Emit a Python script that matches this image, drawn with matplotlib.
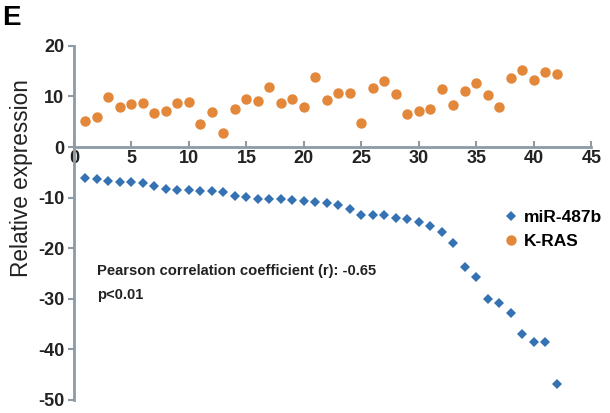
import matplotlib
matplotlib.use('Agg')
from matplotlib import pylab as plt
from matplotlib import font_manager

plt.rcParams['axes.unicode_minus'] = False
installed = {f.name for f in font_manager.fontManager.ttflist}
narrow = 'Liberation Sans Narrow' if 'Liberation Sans Narrow' in installed else 'Liberation Sans'
scale = 1.0 if narrow == 'Liberation Sans Narrow' else 0.82
plt.rcParams['font.family'] = ['Liberation Sans', 'DejaVu Sans']

samples = list(range(1, 43))
kras = [5.2, 6.0, 9.8, 7.9, 8.6, 8.7, 6.8, 7.1, 8.8, 8.9,
        4.5, 6.9, 2.8, 7.5, 9.4, 9.0, 11.9, 8.8, 9.4, 7.9,
        13.8, 9.3, 10.6, 10.6, 4.8, 11.6, 13.1, 10.5, 6.5, 7.1,
        7.5, 11.5, 8.3, 11.1, 12.7, 10.3, 7.9, 13.6, 15.2, 13.2,
        14.8, 14.4]
mir487b = [-6.1, -6.4, -6.7, -6.9, -7.0, -7.2, -7.7, -8.3, -8.4, -8.4,
           -8.6, -8.6, -8.8, -9.6, -9.8, -10.3, -10.3, -10.3, -10.5, -10.7,
           -10.8, -11.1, -11.5, -12.3, -13.4, -13.5, -13.5, -14.0, -14.3, -14.8,
           -15.7, -16.8, -19.0, -23.8, -25.7, -30.0, -30.9, -32.9, -37.0, -38.6,
           -38.6, -46.8]
xTicks = list(range(0, 50, 5))
yTicks = list(range(-50, 30, 10))

blue = '#3572b4'
orange = '#e3883a'
spineColor = '#8c9ba6'
textColor = '#222222'

fig = plt.figure(figsize=(6.1, 4.13), dpi=100)
ax = fig.add_axes([0.1213, 0.0315, 0.848, 0.8575])

ax.plot(samples, mir487b, 'D', color=blue, markersize=5.5, markeredgewidth=0, label='miR-487b')
ax.plot(samples, kras, 'o', color=orange, markersize=7.5, markeredgewidth=0, label='K-RAS')

ax.set_xlim(0, 45)
ax.set_ylim(-50, 20)
ax.set_xticks(xTicks)
ax.set_yticks(yTicks)
ax.spines['top'].set_visible(False)
ax.spines['right'].set_visible(False)
ax.spines['bottom'].set_position(('data', 0))
for side in ('left', 'bottom'):
    ax.spines[side].set_color(spineColor)
    ax.spines[side].set_linewidth(2)
ax.tick_params(axis='y', direction='out', length=4, width=1.5, color=spineColor, pad=3)
ax.tick_params(axis='x', direction='in', length=4, width=1.5, color=spineColor, pad=2)
for label in ax.get_xticklabels() + ax.get_yticklabels():
    label.set_fontfamily([narrow, 'DejaVu Sans'])
    label.set_fontsize(14.5 * scale if scale == 1.0 else 13)
    label.set_fontweight('bold')
    label.set_color(textColor)

ax.set_ylabel('Relative expression', fontsize=16.3, color=textColor)
ax.yaxis.set_label_coords(-0.079, 0.627)

ax.text(0.045, 0.33, 'Pearson correlation coefficient (r): -0.65\np<0.01',
        transform=ax.transAxes, fontsize=13 * scale, fontweight='bold', color=textColor,
        family=[narrow, 'DejaVu Sans'], linespacing=1.85, va='center')

ax.legend(loc='center left', bbox_to_anchor=(0.815, 0.482), frameon=False,
          handletextpad=0.2, borderaxespad=0, labelspacing=0.5, handlelength=1.0,
          prop={'weight': 'bold', 'size': 15.3 * scale, 'family': [narrow, 'DejaVu Sans']})

fig.text(0.003, 0.988, 'E', fontsize=20, fontweight='bold', va='top', ha='left')

plt.savefig('out.png', dpi=100)
plt.close(fig)
